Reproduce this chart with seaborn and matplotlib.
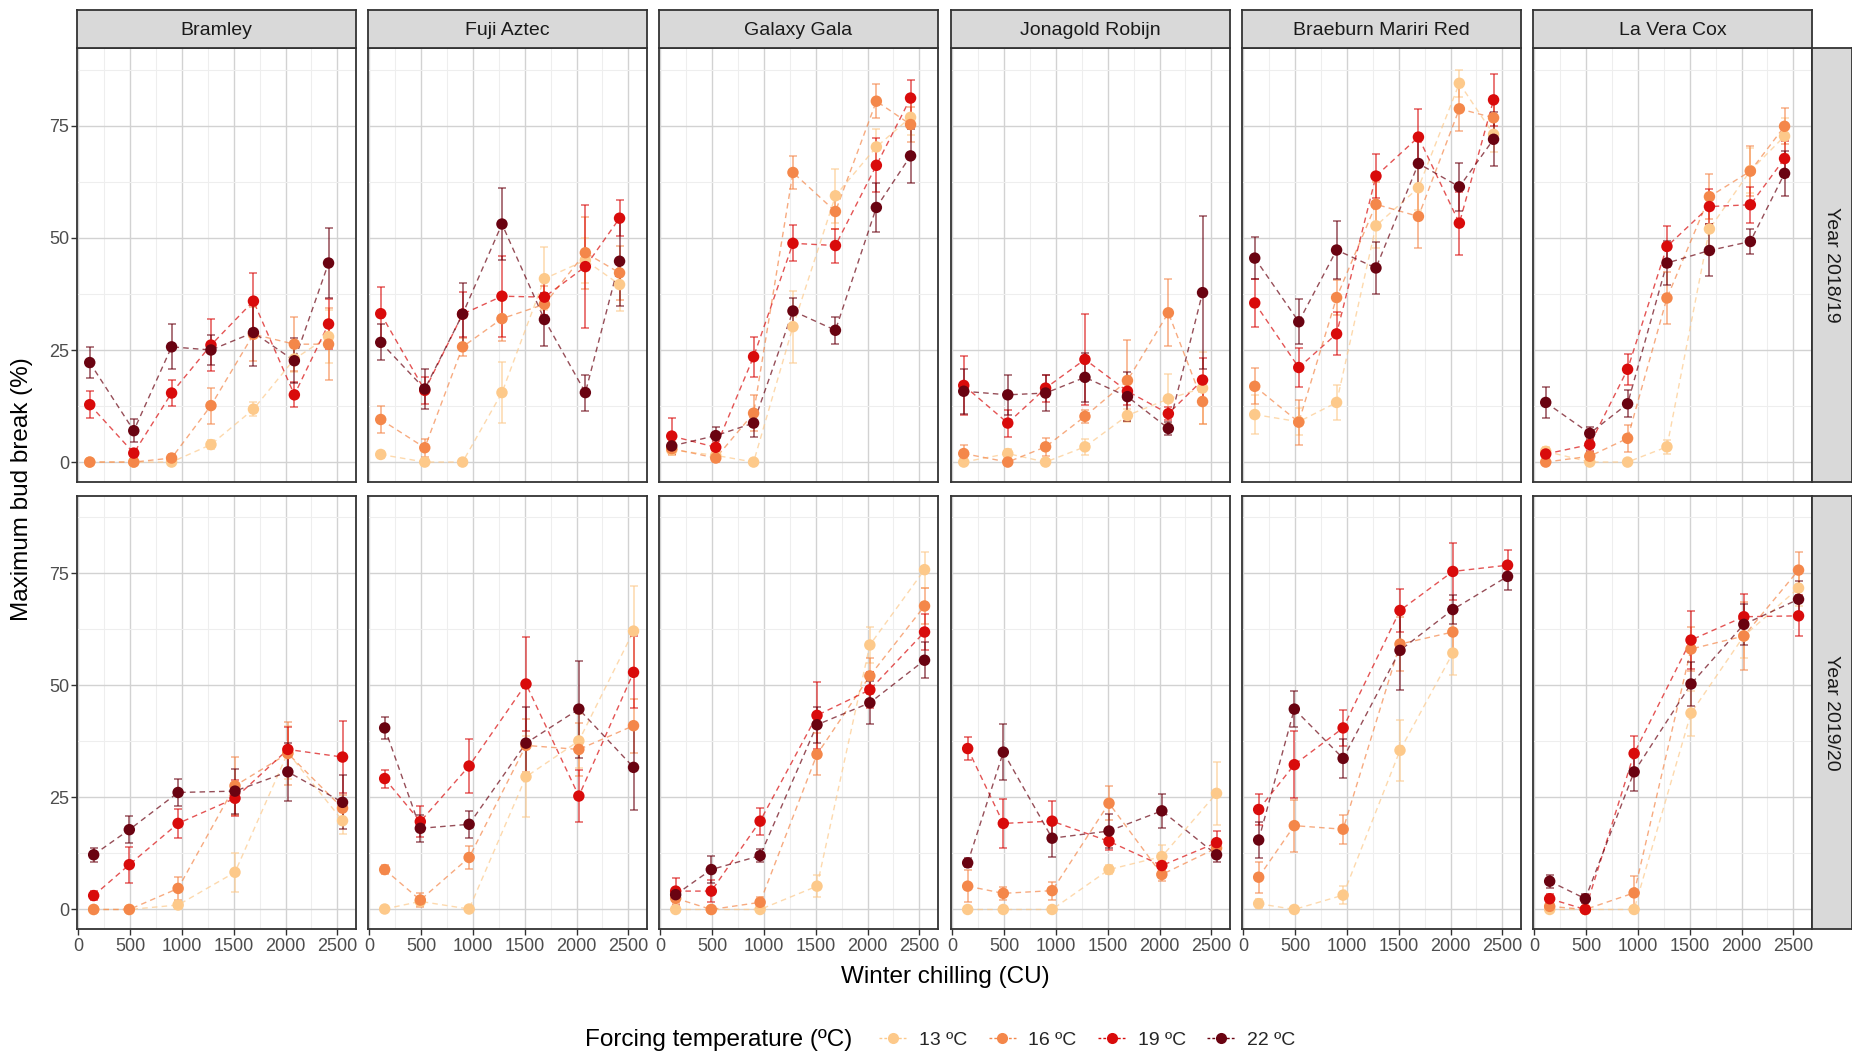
import numpy as np
import pandas as pd
import matplotlib
matplotlib.use("Agg")
import matplotlib.pyplot as plt
import seaborn as sns
from matplotlib.lines import Line2D

# ---------------- data ----------------
cultivars = ["Bramley", "Fuji Aztec", "Galaxy Gala", "Jonagold Robijn",
             "Braeburn Mariri Red", "La Vera Cox"]
years = ["Year 2018/19", "Year 2019/20"]
temps = [13, 16, 19, 22]
temp_labels = ["13 ºC", "16 ºC", "19 ºC", "22 ºC"]
colors = ["#FDC98A", "#F4874A", "#D90B0B", "#6A0311"]

chill_1819 = [110, 535, 900, 1280, 1690, 2085, 2415]
chill_1920 = [148, 492, 963, 1512, 2022, 2550]
nan = np.nan

# --- Year 2018/19 ---
bramley_1819 = {13: [0, 0, 0, 3.9, 11.8, 23.0, 28.0],
                16: [0, 0, 0.9, 12.6, 28.5, 26.3, 26.3],
                19: [12.8, 2.0, 15.4, 26.1, 35.9, 15.0, 30.8],
                22: [22.2, 7.0, 25.7, 25.0, 28.9, 22.6, 44.4]}
bramley_1819_se = {13: [0, 0, 0, 1.0, 1.5, 3, 6],
                   16: [0, 0, 0.8, 4, 6, 6, 8],
                   19: [3, 1, 2.8, 5.8, 6.3, 2.8, 5.5],
                   22: [3.5, 2.5, 5, 3.4, 7.5, 5, 7.8]}
fuji_1819 = {13: [1.7, 0, 0, 15.5, 40.9, 45.0, 39.6],
             16: [9.5, 3.2, 25.7, 32.0, 35.2, 46.7, 42.2],
             19: [33.1, 16.0, 33.0, 37.0, 36.8, 43.6, 54.4],
             22: [26.7, 16.3, 33.0, 53.1, 31.8, 15.5, 44.8]}
fuji_1819_se = {13: [0.8, 0, 0, 6.8, 7, 5, 6],
                16: [3, 2, 2, 5, 4, 8, 6],
                19: [6, 3, 5, 9, 4, 13.8, 4],
                22: [4, 4.5, 7, 8, 6, 4, 10]}
galaxy_1819 = {13: [2.7, 1.5, 0, 30.2, 59.4, 70.3, 76.9],
               16: [3.0, 0.9, 10.9, 64.6, 55.9, 80.5, 75.3],
               19: [5.8, 3.3, 23.5, 48.8, 48.3, 66.2, 81.2],
               22: [3.6, 5.9, 8.7, 33.7, 29.4, 56.8, 68.3]}
galaxy_1819_se = {13: [1, 1, 0, 8, 6, 4, 4],
                  16: [1.5, 0.8, 4, 3.7, 4, 3.8, 4],
                  19: [4, 1.5, 4.5, 4, 3.8, 6, 4],
                  22: [1.5, 2, 3, 3, 3, 5.5, 6]}
jonagold_1819 = {13: [0, 1.9, 0, 3.4, 10.4, 14.1, 16.5],
                 16: [1.9, 0, 3.4, 10.2, 18.2, 33.3, 13.5],
                 19: [17.1, 8.7, 16.5, 22.9, 15.8, 10.8, 18.3],
                 22: [15.8, 15.0, 15.4, 18.9, 14.6, 7.5, 37.8]}
jonagold_1819_se = {13: [0, 1, 0, 1.8, 1.5, 5.5, 8],
                    16: [2, 0, 2, 1.5, 9, 7.5, 5],
                    19: [6.5, 3, 3, 10.2, 3, 1.5, 5],
                    22: [5, 4.5, 4, 5.5, 5.5, 1.5, 17]}
braeburn_1819 = {13: [10.6, 9.0, 13.3, 52.7, 61.2, 84.5, 73.1],
                 16: [16.9, 8.9, 36.7, 57.5, 54.8, 78.8, 76.8],
                 19: [35.5, 21.1, 28.6, 63.8, 72.5, 53.3, 80.8],
                 22: [45.5, 31.3, 47.3, 43.3, 66.6, 61.4, 72.0]}
braeburn_1819_se = {13: [4.3, 3, 4, 5, 5, 3, 4],
                    16: [4, 5, 4, 5, 7, 5, 4],
                    19: [5.3, 4.4, 4.8, 5, 6.2, 7, 5.8],
                    22: [4.7, 5, 6.5, 5.7, 5.8, 5.3, 6]}
lavera_1819 = {13: [2.4, 0, 0, 3.4, 52.0, 65.0, 72.7],
               16: [0, 1.3, 5.3, 36.6, 59.2, 64.9, 74.9],
               19: [1.8, 3.9, 20.7, 48.1, 57.0, 57.4, 67.7],
               22: [13.3, 6.4, 13.0, 44.4, 47.2, 49.2, 64.4]}
lavera_1819_se = {13: [1, 0, 0, 1.5, 5, 5, 4],
                  16: [0, 1, 3, 5.8, 5, 5.5, 4],
                  19: [1, 1.5, 3.5, 4.5, 4, 4, 4],
                  22: [3.5, 1.5, 3, 5, 5.8, 2.8, 5]}

# --- Year 2019/20 ---
bramley_1920 = {13: [0, 0, 1.0, 8.3, 35.0, 19.8],
                16: [0, 0, 4.7, 27.6, 34.8, 22.6],
                19: [3.1, 10.0, 19.2, 24.8, 35.7, 34.0],
                22: [12.2, 17.8, 26.1, 26.4, 30.7, 23.9]}
bramley_1920_se = {13: [0, 0, 1, 4.4, 6, 3],
                   16: [0, 0, 2.5, 6.5, 7, 3],
                   19: [1, 4, 3.3, 4, 5, 8],
                   22: [1.5, 3, 3, 5, 6.5, 6]}
fuji_1920 = {13: [0.1, 1.8, 0.1, 29.6, 37.6, 62.1],
             16: [8.9, 2.1, 11.6, 36.6, 35.7, 41.0],
             19: [29.2, 19.6, 32.0, 50.3, 25.3, 52.9],
             22: [40.5, 18.1, 19.0, 37.1, 44.7, 31.7]}
fuji_1920_se = {13: [0, 1, 0, 9, 6, 10],
                16: [1, 1.5, 2.5, 6, 6, 6],
                19: [2, 3.5, 6, 10.5, 5.8, 8],
                22: [2.5, 3, 3, 8, 10.8, 9.5]}
galaxy_1920 = {13: [0, 0, 0, 5.2, 59.0, 75.8],
               16: [2.5, 0, 1.6, 34.6, 52.1, 67.7],
               19: [4.1, 4.1, 19.7, 43.3, 49.0, 61.9],
               22: [3.3, 8.9, 12.0, 41.2, 46.1, 55.6]}
galaxy_1920_se = {13: [0, 0, 0, 2.5, 4, 4],
                  16: [1, 0, 1.2, 4.7, 4, 4],
                  19: [3, 2.5, 3, 7.5, 4, 4],
                  22: [1.5, 3, 1.5, 4, 4.8, 4]}
jonagold_1920 = {13: [0, 0, 0, 8.9, 11.8, 25.9],
                 16: [5.2, 3.6, 4.2, 23.7, 7.8, 13.7],
                 19: [35.9, 19.2, 19.7, 15.2, 9.8, 14.9],
                 22: [10.4, 35.1, 15.9, 17.5, 22.0, 12.2]}
jonagold_1920_se = {13: [0, 0, 0, 1, 2.5, 7],
                    16: [3.5, 1.5, 2, 3.8, 1.5, 2],
                    19: [2.5, 5.5, 4.5, 2, 1.5, 2.5],
                    22: [1, 6.3, 4.3, 3.8, 3.8, 1.5]}
braeburn_1920 = {13: [1.3, 0, 3.2, 35.5, 57.2, nan],
                 16: [7.2, 18.7, 17.9, 59.2, 61.9, nan],
                 19: [22.3, 32.3, 40.5, 66.7, 75.4, 76.8],
                 22: [15.5, 44.7, 33.7, 57.8, 66.9, 74.3]}
braeburn_1920_se = {13: [1, 0, 2, 6.8, 5, nan],
                    16: [3.5, 5.8, 3.2, 6, 5, nan],
                    19: [3.5, 7.5, 4, 4.8, 6.4, 3.4],
                    22: [4, 4, 4.4, 8.8, 3.2, 3]}
lavera_1920 = {13: [0, 0, 0, 43.8, 61.0, 71.7],
               16: [0.7, 0, 3.7, 58.1, 61.0, 75.7],
               19: [2.4, 0, 34.8, 60.1, 65.3, 65.5],
               22: [6.3, 2.4, 30.7, 50.3, 63.6, 69.2]}
lavera_1920_se = {13: [0, 0, 0, 5, 5, 4],
                  16: [0.5, 0, 3.7, 5, 7.5, 4],
                  19: [1, 0, 3.8, 6.5, 5, 4.6],
                  22: [1.5, 1, 4.2, 4.8, 4.5, 4]}

panel_data = {
    (0, 0): (bramley_1819, bramley_1819_se), (0, 1): (fuji_1819, fuji_1819_se),
    (0, 2): (galaxy_1819, galaxy_1819_se), (0, 3): (jonagold_1819, jonagold_1819_se),
    (0, 4): (braeburn_1819, braeburn_1819_se), (0, 5): (lavera_1819, lavera_1819_se),
    (1, 0): (bramley_1920, bramley_1920_se), (1, 1): (fuji_1920, fuji_1920_se),
    (1, 2): (galaxy_1920, galaxy_1920_se), (1, 3): (jonagold_1920, jonagold_1920_se),
    (1, 4): (braeburn_1920, braeburn_1920_se), (1, 5): (lavera_1920, lavera_1920_se),
}
chill_by_year = [chill_1819, chill_1920]

rows = []
for (r, c), (vals, ses) in panel_data.items():
    for t, lab in zip(temps, temp_labels):
        for x, v, e in zip(chill_by_year[r], vals[t], ses[t]):
            rows.append(dict(year=years[r], cultivar=cultivars[c], temp=lab,
                             chill=x, bud=v, se=e))
df = pd.DataFrame(rows)

# ---------------- styling ----------------
sns.set_theme(style="white")
plt.rcParams["font.family"] = ["Liberation Sans", "DejaVu Sans"]

W, H = 1852, 1056
fig = plt.figure(figsize=(W / 100, H / 100), dpi=100)

col_left = [77.3, 368.3, 659.3, 951.3, 1242.3, 1533.3]
pw = 278.4
row_top = [48.3, 495.7]
ph = 433.5
palette = dict(zip(temp_labels, colors))

axes = {}
for r in range(2):
    for c in range(6):
        ax = fig.add_axes([col_left[c] / W, 1 - (row_top[r] + ph) / H, pw / W, ph / H])
        axes[(r, c)] = ax
        sub = df[(df.year == years[r]) & (df.cultivar == cultivars[c])].dropna()

        ax.set_xlim(-10, 2677)
        ax.set_ylim(-4.4, 92.3)
        ax.set_xticks([0, 500, 1000, 1500, 2000, 2500])
        ax.set_xticks(np.arange(250, 2700, 500), minor=True)
        ax.set_yticks([0, 25, 50, 75])
        ax.set_yticks([12.5, 37.5, 62.5, 87.5], minor=True)
        ax.grid(which="major", color="#D2D2D2", lw=1.0)
        ax.grid(which="minor", color="#EEEEEE", lw=0.8)
        ax.set_axisbelow(True)

        sns.lineplot(data=sub, x="chill", y="bud", hue="temp", hue_order=temp_labels,
                     palette=palette, linestyle=(0, (4, 3)), linewidth=1.0, alpha=0.7,
                     legend=False, ax=ax, sort=False, estimator=None, errorbar=None,
                     zorder=2)
        for lab in temp_labels:
            s = sub[sub.temp == lab]
            ax.errorbar(s.chill, s.bud, yerr=s.se, fmt="none", ecolor=palette[lab],
                        elinewidth=1.3, capsize=2.6, capthick=1.2, alpha=0.6, zorder=3)
        sns.scatterplot(data=sub, x="chill", y="bud", hue="temp", hue_order=temp_labels,
                        palette=palette, s=68, edgecolor="none", linewidth=0,
                        legend=False, ax=ax, zorder=4)

        ax.set_xlabel("")
        ax.set_ylabel("")
        for sp in ax.spines.values():
            sp.set_color("#333333")
            sp.set_linewidth(1.3)
        ax.tick_params(which="minor", length=0)
        ax.tick_params(which="major", length=4, width=1.0, color="#333333",
                       labelsize=13, labelcolor="#4D4D4D", pad=2)
        if c != 0:
            ax.tick_params(left=False, labelleft=False)
        else:
            ax.tick_params(left=True, labelleft=True)
        if r != 1:
            ax.tick_params(bottom=False, labelbottom=False)
        else:
            ax.tick_params(bottom=True, labelbottom=True)

# strips on top
strip_h = 38.8
for c in range(6):
    sax = fig.add_axes([col_left[c] / W, 1 - row_top[0] / H, pw / W, strip_h / H])
    sax.set_facecolor("#D9D9D9")
    sax.set_xticks([]); sax.set_yticks([])
    for sp in sax.spines.values():
        sp.set_color("#333333"); sp.set_linewidth(1.3)
    sax.text(0.5, 0.45, cultivars[c], ha="center", va="center", fontsize=14,
             color="#1A1A1A", transform=sax.transAxes)

# strips on right
strip_w = 40
for r in range(2):
    sax = fig.add_axes([(col_left[5] + pw) / W, 1 - (row_top[r] + ph) / H,
                        strip_w / W, ph / H])
    sax.set_facecolor("#D9D9D9")
    sax.set_xticks([]); sax.set_yticks([])
    for sp in sax.spines.values():
        sp.set_color("#333333"); sp.set_linewidth(1.3)
    sax.text(0.5, 0.5, years[r], ha="center", va="center", fontsize=14,
             color="#1A1A1A", rotation=-90, transform=sax.transAxes)

# axis titles
fig.text(22 / W, 1 - 489 / H, "Maximum bud break (%)", rotation=90, ha="center",
         va="center", fontsize=17.5, color="black")
fig.text(945 / W, 1 - 977 / H, "Winter chilling (CU)", ha="center", va="center",
         fontsize=17.5, color="black")

# legend
fig.text(585 / W, 1 - 1040 / H, "Forcing temperature (ºC)", ha="left", va="center",
         fontsize=17.5, color="black")
handles = [Line2D([0], [0], color=col, linestyle=(0, (2, 1.5)), linewidth=1.0,
                  marker="o", markersize=8, markeredgewidth=0) for col in colors]
fig.legend(handles, temp_labels, loc="center left",
           bbox_to_anchor=(879 / W, 1 - 1040 / H), ncol=4, frameon=False,
           fontsize=14, handlelength=1.4, handletextpad=0.65, columnspacing=1.1,
           borderaxespad=0, borderpad=0)

fig.savefig("out.png", dpi=100, facecolor="white")
